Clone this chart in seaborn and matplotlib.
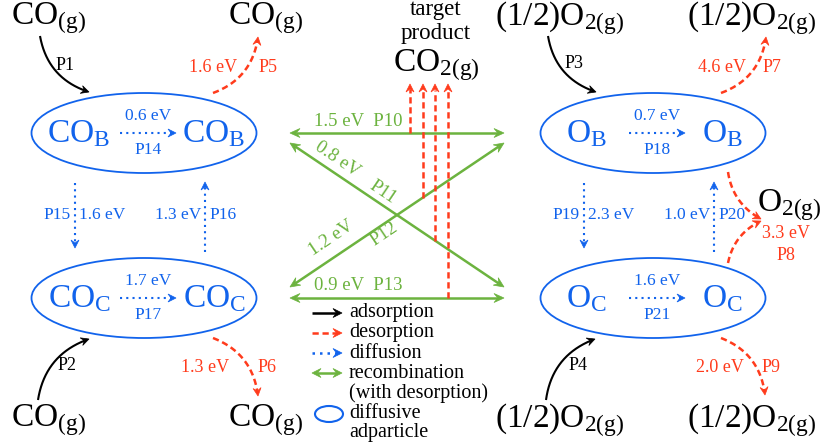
import matplotlib
matplotlib.use("Agg")
import numpy as np
import matplotlib.pyplot as plt
import seaborn as sns
from matplotlib.patches import Ellipse, Polygon

# ---------------- data ----------------
adsorption_labels = ["P1", "P2", "P3", "P4"]
desorption_labels = ["P5", "P6", "P7", "P8", "P9"]
desorption_energy = [1.6, 1.3, 4.6, 3.3, 2.0]
recomb_labels = ["P10", "P11", "P12", "P13"]
recomb_energy = [1.5, 0.8, 1.2, 0.9]
diffusion_labels = ["P14", "P15", "P16", "P17", "P18", "P19", "P20", "P21"]
diffusion_energy = [0.6, 1.6, 1.3, 1.7, 0.7, 2.3, 1.0, 1.6]
legend_labels = ["adsorption", "desorption", "diffusion",
                 "recombination", "(with desorption)", "diffusive", "adparticle"]

sns.set_theme(style="white")
plt.rcParams["font.family"] = ["Liberation Serif", "DejaVu Serif"]
plt.rcParams["mathtext.fontset"] = "custom"
plt.rcParams["mathtext.rm"] = "Liberation Serif"
plt.rcParams["mathtext.it"] = "Liberation Serif:italic"
plt.rcParams["mathtext.bf"] = "Liberation Serif:bold"

BLUE = "#1163ec"
RED = "#ff3b1c"
GREEN = "#6cb33f"
BLACK = "#000000"

fig = plt.figure(figsize=(8.37, 4.48), dpi=100)
ax = fig.add_axes([0, 0, 1, 1])
ax.set_xlim(0, 837)
ax.set_ylim(448, 0)
ax.axis("off")

BIG = 24
LAB = 13
BL = 12.5


def E(v):
    return f"{v:.1f} eV"


def txt(x, y, s, color=BLACK, size=LAB, ha="center", va="center", **kw):
    ax.text(x, y, s, color=color, fontsize=size, ha=ha, va=va,
            family=["Liberation Serif", "DejaVu Serif"], **kw)


DASH = (0, (2.5, 1.5))
DOT = (0, (1, 2))
SOLID = "-"


def head(tip, d, color, hl, hw):
    d = d / np.hypot(*d)
    n = np.array([-d[1], d[0]])
    tip = np.asarray(tip, float)
    pts = [tip, tip - d * hl + n * hw, tip - d * hl * 0.62, tip - d * hl - n * hw]
    ax.add_patch(Polygon(pts, closed=True, facecolor=color, edgecolor=color,
                         lw=0.5, zorder=3))


def curve(p1, p2, color, ls=SOLID, rad=0.0, lw=1.5, hl=8, hw=4, start_head=False):
    p1 = np.asarray(p1, float)
    p2 = np.asarray(p2, float)
    dx, dy = p2 - p1
    c = (p1 + p2) / 2 + rad * np.array([-dy, dx])
    t = np.linspace(0, 1, 200)[:, None]
    pts = (1 - t) ** 2 * p1 + 2 * (1 - t) * t * c + t ** 2 * p2
    keep = np.hypot(*(pts - p2).T) >= hl * 0.6
    if start_head:
        keep &= np.hypot(*(pts - p1).T) >= hl * 0.6
    pts = pts[keep]
    ax.plot(pts[:, 0], pts[:, 1], color=color, lw=lw, linestyle=ls,
            solid_capstyle="butt", dash_capstyle="butt", zorder=2)
    head(p2, p2 - c, color, hl, hw)
    if start_head:
        head(p1, p1 - c, color, hl, hw)


COg = r"CO$_{\mathrm{(g)}}$"
O2half = r"(1/2)O$_{\mathrm{2(g)}}$"

# gas-phase species
txt(48, 18, COg, size=BIG)
txt(265, 18, COg, size=BIG)
txt(48, 420, COg, size=BIG)
txt(265, 420, COg, size=BIG)
txt(560, 18, O2half, size=BIG)
txt(752, 18, O2half, size=BIG)
txt(560, 420, O2half, size=BIG)
txt(752, 420, O2half, size=BIG)
txt(789, 205, r"O$_{\mathrm{2(g)}}$", size=BIG)
txt(436, 10, "target", size=16.5)
txt(436, 34, "product", size=16.5)
txt(436, 65, r"CO$_{\mathrm{2(g)}}$", size=BIG)

# ellipses with adparticles
for cx, cy, sp in [(144, 133, "CO$_{\\mathrm{B}}$"), (144, 298, "CO$_{\\mathrm{C}}$"),
                   (653, 133, "O$_{\\mathrm{B}}$"), (653, 298, "O$_{\\mathrm{C}}$")]:
    ax.add_patch(Ellipse((cx, cy), 225, 80, fill=False, edgecolor=BLUE, lw=1.3))
    offl, offr = (65, 70) if sp.startswith("CO") else (67, 69)
    txt(cx - offl, cy + 1, sp, color=BLUE, size=BIG)
    txt(cx + offr, cy + 1, sp, color=BLUE, size=BIG)

# horizontal diffusion inside ellipses
centers = [(144, 133), (144, 298), (653, 133), (653, 298)]
for (cx, cy), i in zip(centers, [0, 3, 4, 7]):
    curve((cx - 24, cy), (cx + 32, cy), BLUE, ls=DOT, lw=1.5, hl=8, hw=4)
    txt(cx + 4, cy - 17, E(diffusion_energy[i]), color=BLUE, size=BL)
    txt(cx + 4, cy + 17, diffusion_labels[i], color=BLUE, size=BL)

# vertical diffusion
for x_dn, x_up, i_dn, i_up in [(75, 205, 1, 2), (584, 714, 5, 6)]:
    curve((x_dn, 183), (x_dn, 248), BLUE, ls=DOT, lw=1.5, hl=8, hw=4)
    curve((x_up, 252), (x_up, 182), BLUE, ls=DOT, lw=1.5, hl=8, hw=4)
    txt(x_dn - 4, 215, diffusion_labels[i_dn], color=BLUE, size=BL, ha="right")
    txt(x_dn + 4, 215, E(diffusion_energy[i_dn]), color=BLUE, size=BL, ha="left")
    txt(x_up - 4, 215, E(diffusion_energy[i_up]), color=BLUE, size=BL, ha="right")
    txt(x_up + 4, 215, diffusion_labels[i_up], color=BLUE, size=BL, ha="left")

# adsorption (black)
ads_geom = [((40, 36), (89, 92), 0.3, (65, 66)),
            ((38, 400), (89, 339), -0.3, (67, 366)),
            ((548, 36), (596, 92), 0.3, (574, 64)),
            ((546, 400), (595, 339), -0.3, (578, 366))]
for (p1, p2, rad, lp), lab in zip(ads_geom, adsorption_labels):
    curve(p1, p2, BLACK, rad=rad, lw=1.5)
    txt(lp[0], lp[1], lab)

# desorption (red)
des_geom = [((213, 93), (258, 37), 0.3, (213, 68), (268, 68)),
            ((213, 338), (258, 396), -0.3, (205, 367), (267, 367)),
            ((721, 93), (766, 37), 0.3, (722, 68), (772, 68)),
            None,
            ((721, 338), (765, 395), -0.3, (720, 367), (771, 367))]
for g, lab, e in zip(des_geom, desorption_labels, desorption_energy):
    if g is None:
        curve((728, 172), (761, 219), RED, ls=DASH, rad=0.25, lw=1.8)
        curve((728, 263), (761, 221), RED, ls=DASH, rad=-0.25, lw=1.8)
        txt(786, 234, E(e), color=RED)
        txt(786, 255, lab, color=RED)
        continue
    p1, p2, rad, le, lp = g
    curve(p1, p2, RED, ls=DASH, rad=rad, lw=1.8)
    txt(le[0], le[1], E(e), color=RED)
    txt(lp[0], lp[1], lab, color=RED)

# recombination (green)
L, R, TOP, BOT, XT, XB = 290, 504, 133, 298, 143, 287
green_geom = [((L, TOP), (R, TOP)), ((L, XT), (R, XB)), ((L, XB), (R, XT)), ((L, BOT), (R, BOT))]
for p1, p2 in green_geom:
    curve(p1, p2, GREEN, lw=1.8, hl=10, hw=4.5, start_head=True)
txt(314, 121, f"{E(recomb_energy[0])}  {recomb_labels[0]}", color=GREEN, ha="left", size=13.5)
txt(314, 286, f"{E(recomb_energy[3])}  {recomb_labels[3]}", color=GREEN, ha="left", size=13.5)
txt(337, 159, E(recomb_energy[1]), color=GREEN, rotation=-34, size=13.5)
txt(383, 192, recomb_labels[1], color=GREEN, rotation=-34, size=13.5)
txt(331, 238, E(recomb_energy[2]), color=GREEN, rotation=34, size=13.5)
txt(384, 234, recomb_labels[2], color=GREEN, rotation=34, size=13.5)

# CO2 desorption verticals (red dashed)
slope = (XB - XT) / (R - L)
for x, kind in [(410, "top"), (423, "up"), (435, "down"), (448, "bot")]:
    if kind == "top":
        yb = TOP
    elif kind == "bot":
        yb = BOT
    elif kind == "up":
        yb = XB - (x - L) * slope
    else:
        yb = XT + (x - L) * slope
    curve((x, yb), (x, 84), RED, ls=DASH, lw=1.8, hl=8, hw=4)

# legend
ly = [313, 333, 353, 373]
styles = [(BLACK, SOLID, False), (RED, DASH, False), (BLUE, DOT, False), (GREEN, SOLID, True)]
for y, (c, ls, both) in zip(ly, styles):
    curve((312, y), (342, y), c, ls=ls, lw=1.8, hl=9, hw=4.5, start_head=both)
for y, lab in zip([313, 333, 353, 373, 393, 413, 433], legend_labels):
    txt(349, y, lab, size=14.5, ha="left")
ax.add_patch(Ellipse((329, 414), 28, 16, fill=False, edgecolor=BLUE, lw=1.5))

fig.savefig("out.png", dpi=100)
